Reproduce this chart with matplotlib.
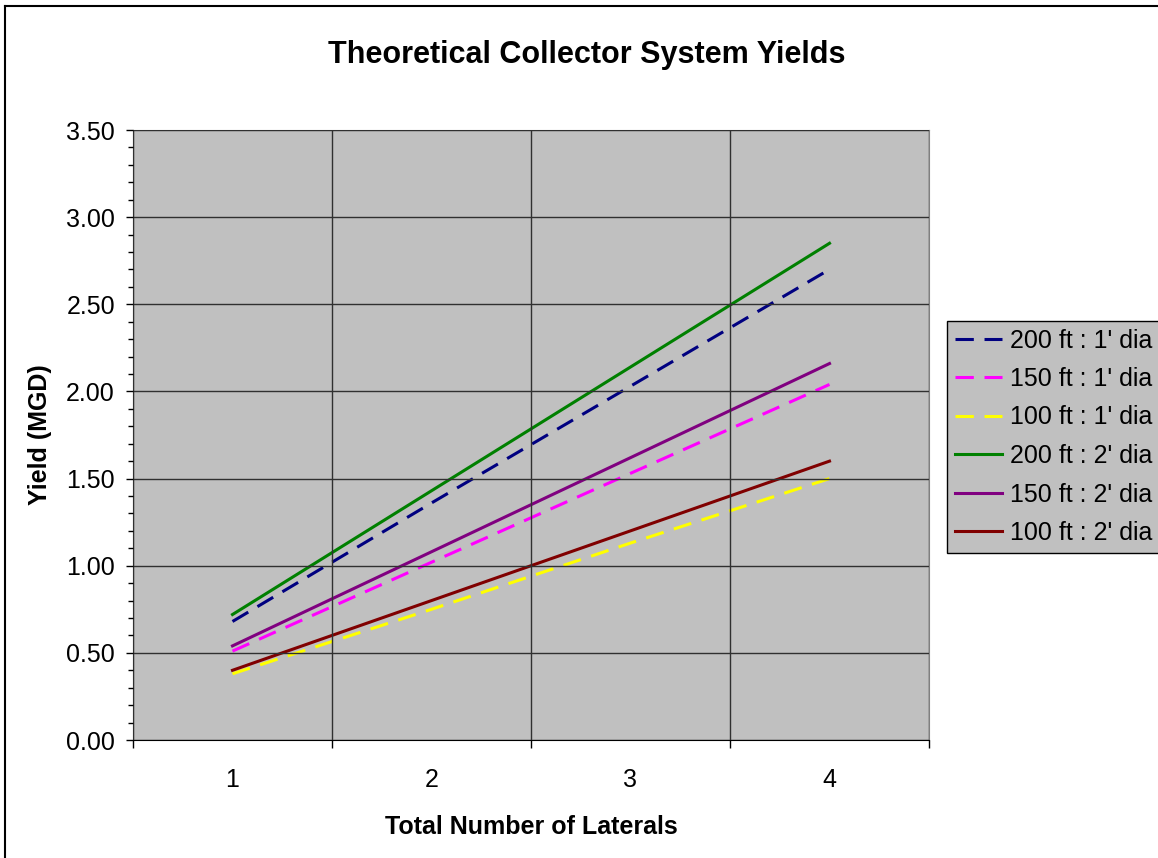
import matplotlib
matplotlib.use('Agg')
import matplotlib.pyplot as plt
from matplotlib.lines import Line2D
from matplotlib.ticker import MultipleLocator, FixedLocator, NullFormatter

plt.rcParams['font.family'] = ['Liberation Sans', 'DejaVu Sans']

# Data
laterals = [1, 2, 3, 4]
series_labels = ["200 ft : 1' dia", "150 ft : 1' dia", "100 ft : 1' dia",
                 "200 ft : 2' dia", "150 ft : 2' dia", "100 ft : 2' dia"]
y_200_1 = [0.68, 1.36, 2.03, 2.70]
y_150_1 = [0.51, 1.02, 1.53, 2.04]
y_100_1 = [0.38, 0.75, 1.13, 1.50]
y_200_2 = [0.72, 1.43, 2.14, 2.85]
y_150_2 = [0.54, 1.08, 1.62, 2.16]
y_100_2 = [0.40, 0.80, 1.20, 1.60]

series = [y_200_1, y_150_1, y_100_1, y_200_2, y_150_2, y_100_2]
colors = ['#000080', '#FF00FF', '#FFFF00', '#008000', '#800080', '#800000']
styles = [(0, (6, 3.5)), (0, (6, 3.5)), (0, (6, 3.5)), '-', '-', '-']

W, H = 1158, 858
fig = plt.figure(figsize=(W / 100, H / 100), dpi=100)
ax = fig.add_axes([133 / W, 1 - 740 / H, (929 - 133) / W, (740 - 130) / H])
ax.set_facecolor('#C0C0C0')

for vals, c, ls, lab in zip(series, colors, styles, series_labels):
    ax.plot(laterals, vals, color=c, linestyle=ls, linewidth=2.2, label=lab)

ax.set_xlim(0.5, 4.5)
ax.set_ylim(0, 3.5)

# x: boundaries as major ticks, labels at category centers
ax.xaxis.set_major_locator(FixedLocator([0.5, 1.5, 2.5, 3.5, 4.5]))
ax.xaxis.set_major_formatter(NullFormatter())
ax.xaxis.set_minor_locator(FixedLocator(laterals))
ax.set_xticklabels([str(v) for v in laterals], minor=True)
ax.tick_params(axis='x', which='major', length=6, width=1, direction='out')
ax.tick_params(axis='x', which='minor', length=0, pad=20, labelsize=18)

ax.yaxis.set_major_locator(MultipleLocator(0.5))
ax.yaxis.set_minor_locator(MultipleLocator(0.1))
ax.yaxis.set_major_formatter(matplotlib.ticker.FormatStrFormatter('%.2f'))
ax.tick_params(axis='y', which='major', length=5, width=1, labelsize=18, pad=8)
ax.tick_params(axis='y', which='minor', length=3.5, width=1)

ax.grid(True, which='major', color='#303030', linewidth=1)
ax.set_axisbelow(False)
for side in ['top', 'right']:
    ax.spines[side].set_color('#808080')
for side in ['left', 'bottom']:
    ax.spines[side].set_color('black')

ax.set_xlabel('Total Number of Laterals', fontsize=18, fontweight='bold', labelpad=17)
ax.set_ylabel('Yield (MGD)', fontsize=18, fontweight='bold', labelpad=10)
fig.text(587 / W, 1 - 55 / H, 'Theoretical Collector System Yields',
         fontsize=22, fontweight='bold', ha='center', va='center')

leg = ax.legend(loc='upper left', bbox_to_anchor=(947 / W, 1 - 321 / H),
                bbox_transform=fig.transFigure, fontsize=18, frameon=True,
                fancybox=False, facecolor='#C0C0C0', edgecolor='black',
                framealpha=1, handlelength=1.9, handletextpad=0.3,
                labelspacing=0.58, borderpad=0.3, borderaxespad=0)
leg.get_frame().set_linewidth(1)

# outer chart border
fig.add_artist(Line2D([5 / W, 5 / W], [0, 1 - 6 / H], transform=fig.transFigure,
                      color='black', linewidth=1.5))
fig.add_artist(Line2D([5 / W, 1], [1 - 6 / H, 1 - 6 / H], transform=fig.transFigure,
                      color='black', linewidth=1.5))

fig.savefig('out.png', dpi=100)
